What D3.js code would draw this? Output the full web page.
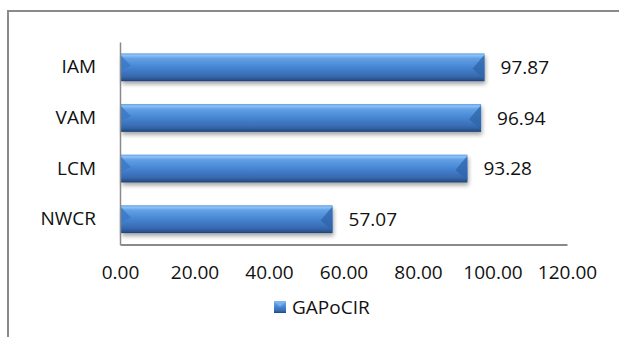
<!DOCTYPE html>
<meta charset="utf-8">
<script src="https://cdn.jsdelivr.net/npm/d3@7"></script>
<style>
body { margin: 0; background: #fff; }
text { font-family: "Open Sans", sans-serif; fill: #111; }
</style>
<div id="plot"></div>
<script>
// chart values
var categories = ["IAM", "VAM", "LCM", "NWCR"];
var values = [97.87, 96.94, 93.28, 57.07];
var xTicks = [0, 20, 40, 60, 80, 100, 120];
var seriesName = "GAPoCIR";

var width = 619, height = 337;
var margin = {top: 42, left: 120, right: 52, bottom: 92.5};

var svg = d3.select("#plot").append("svg")
  .attr("width", width)
  .attr("height", height);

var defs = svg.append("defs");

// bevel-ish gradient like the old office bars
var grad = defs.append("linearGradient")
  .attr("id", "barGrad")
  .attr("x1", 0).attr("y1", 0).attr("x2", 0).attr("y2", 1);
[["0%", "#5f9de2"], ["7%", "#8ec2f6"], ["18%", "#62a0e6"], ["50%", "#4585d2"],
 ["82%", "#3869b0"], ["92%", "#2c5894"], ["100%", "#1f4373"]].forEach(function(s){
  grad.append("stop").attr("offset", s[0]).attr("stop-color", s[1]);
});

var shadow = defs.append("filter").attr("id", "shadow")
  .attr("x", "-5%").attr("y", "-20%").attr("width", "110%").attr("height", "160%");
shadow.append("feGaussianBlur").attr("in", "SourceAlpha").attr("stdDeviation", 2);
shadow.append("feOffset").attr("dx", 1).attr("dy", 3).attr("result", "b");
shadow.append("feComponentTransfer").append("feFuncA").attr("type", "linear").attr("slope", 0.35);
var merge = shadow.append("feMerge");
merge.append("feMergeNode");
merge.append("feMergeNode").attr("in", "SourceGraphic");

// outer chart area border (runs off the picture)
svg.append("rect")
  .attr("x", 8).attr("y", 11)
  .attr("width", 700).attr("height", 400)
  .attr("fill", "none")
  .attr("stroke", "#8a8a8a")
  .attr("stroke-width", 2);

var x = d3.scaleLinear()
  .domain([0, 120])
  .range([margin.left, width - margin.right]);

var y = d3.scaleBand()
  .domain(categories)
  .range([margin.top, height - margin.bottom])
  .paddingInner(0.45)
  .paddingOuter(0.225);

// bars
var bars = svg.selectAll(".bar")
  .data(values)
  .enter().append("g")
  .attr("class", "bar")
  .attr("filter", "url(#shadow)");

bars.append("rect")
  .attr("x", x(0) + 1)
  .attr("y", function(d, i){ return y(categories[i]); })
  .attr("width", function(d){ return x(d) - x(0) - 1; })
  .attr("height", y.bandwidth())
  .attr("fill", "url(#barGrad)");

// right end bevel
bars.append("path")
  .attr("d", function(d, i){
    var x1 = x(d), y0 = y(categories[i]), h = y.bandwidth();
    return "M" + x1 + "," + (y0 + 1) + "L" + (x1 - 12) + "," + (y0 + h * 0.55) +
      "L" + x1 + "," + (y0 + h - 2) + "Z";
  })
  .attr("fill", "#2f64a8")
  .attr("opacity", 0.75);

// left end bevel
bars.append("path")
  .attr("d", function(d, i){
    var x0 = x(0) + 1, y0 = y(categories[i]), h = y.bandwidth();
    return "M" + x0 + "," + (y0 + 2) + "L" + (x0 + 10) + "," + (y0 + h * 0.45) +
      "L" + x0 + "," + (y0 + h * 0.6) + "Z";
  })
  .attr("fill", "#3a77c4")
  .attr("opacity", 0.8);

// axes
var xAxis = d3.axisBottom(x)
  .tickValues(xTicks)
  .tickFormat(d3.format(".2f"))
  .tickSize(0)
  .tickPadding(21);

var gx = svg.append("g")
  .attr("transform", "translate(0," + (height - margin.bottom) + ")")
  .call(xAxis);
gx.select(".domain").attr("stroke", "#8a8a8a").attr("stroke-width", 2);
gx.selectAll("text").style("font-size", "19px").style("fill", "#111")
  .attr("font-family", "Open Sans");

var yAxis = d3.axisLeft(y).tickSize(0).tickPadding(24);
var gy = svg.append("g")
  .attr("transform", "translate(" + margin.left + ",0)")
  .call(yAxis);
gy.select(".domain").attr("stroke", "#8a8a8a").attr("stroke-width", 1.5);
gy.selectAll("text").style("font-size", "19px").style("fill", "#111")
  .attr("font-family", "Open Sans");

// value labels
svg.selectAll(".val")
  .data(values)
  .enter().append("text")
  .attr("class", "val")
  .attr("x", function(d){ return x(d) + 16; })
  .attr("y", function(d, i){ return y(categories[i]) + y.bandwidth() / 2; })
  .attr("dy", "0.35em")
  .style("font-size", "19px")
  .text(function(d){ return d.toFixed(2); });

// legend
var legend = svg.append("g").attr("transform", "translate(274,301)");
legend.append("rect")
  .attr("width", 12).attr("height", 12)
  .attr("fill", "url(#barGrad)");
legend.append("path")
  .attr("d", "M0,0L6,6L12,0Z")
  .attr("fill", "#7ab4f0")
  .attr("opacity", 0.8);
legend.append("text")
  .attr("x", 18).attr("y", 6)
  .attr("dy", "0.35em")
  .style("font-size", "19px")
  .text(seriesName);
</script>
